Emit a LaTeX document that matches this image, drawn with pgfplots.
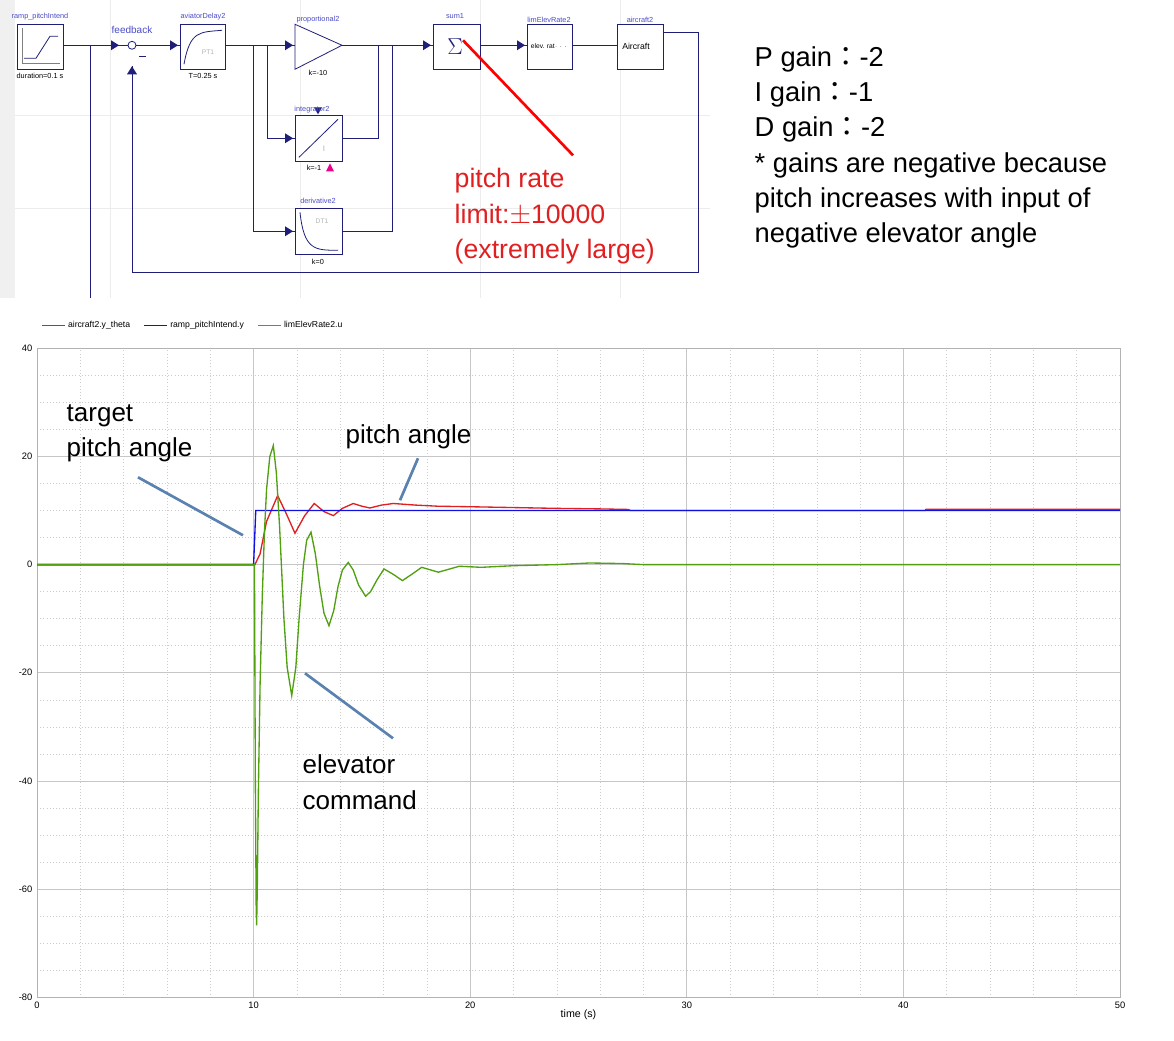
\documentclass[border=0pt]{standalone}
\usepackage{pgfplots}
\pgfplotsset{compat=1.18}
\usepackage{fontspec}
\setmainfont{Liberation Sans}
\newfontfamily\cjk{Noto Sans CJK JP}
\definecolor{dblue}{HTML}{1F1F7A}
\definecolor{lblue}{HTML}{4B4BC8}
\definecolor{ann}{HTML}{5A82B0}
\definecolor{pred}{HTML}{E02020}
\definecolor{pblue}{HTML}{1010E0}
\definecolor{pgreen}{HTML}{50A010}
\begin{document}
\begin{tikzpicture}[x=0.75pt,y=-0.75pt]
\fill[white] (0,0) rectangle (1174,1040);
\coordinate (axpos) at (37,997);
% diagram background
\fill[gray!12] (0,0) rectangle (15,298);
\foreach \yy in {115,208} \draw[gray!15] (15,\yy) -- (710,\yy);
\foreach \xx in {110,300,480,620} \draw[gray!15] (\xx,0) -- (\xx,298);
\begin{scope}[dblue, line width=0.6pt]
\tikzset{blk/.style={draw=dblue, fill=white}}
\draw (63,45) -- (128,45); \draw (136,45) -- (180,45);
\draw (225,45) -- (295,45); \draw (342,45) -- (433,45);
\draw (480,45) -- (527,45); \draw (572,45) -- (617,45);
\draw (90,45) -- (90,298);
\draw (663,32) -- (698,32) -- (698,272) -- (132,272) -- (132,66);
\draw (267,45) -- (267,138) -- (295,138);
\draw (253,45) -- (253,231) -- (295,231);
\draw (342,138) -- (378,138) -- (378,45);
\draw (342,231) -- (392,231) -- (392,45);
\foreach \ax/\ay in {119/45,178/45,293/45,431/45,525/45,293/138,293/231}
  \fill (\ax-8,\ay-5) -- (\ax,\ay) -- (\ax-8,\ay+5) -- cycle;
\fill (127,74) -- (132,66) -- (137,74) -- cycle;
\draw[fill=white] (132,45) circle (4);
\draw (139,56) -- (146,56);
\draw[blk] (17,24) rectangle (63,69);
\draw[gray] (22,63) -- (60,63); \draw[gray] (22,63) -- (22,28);
\draw (24,58) -- (36,58) -- (50,36) -- (58,36);
\draw[blk] (180,24) rectangle (225,69);
\draw (184,64) .. controls (190,30) and (200,32) .. (222,30);
\node[gray!60,font=\fontsize{5}{6}\selectfont] at (208,52) {PT1};
\draw[blk] (295,24) -- (342,45) -- (295,69) -- cycle;
\draw[blk] (433,24) rectangle (480,69);
\node[font=\fontsize{16}{16}\selectfont] at (455,46) {$\Sigma$};
\draw[blk] (527,24) rectangle (572,69);
\node[black,font=\fontsize{5}{6}\selectfont] at (549,46) {elev. rat$\cdots$};
\draw[blk] (617,24) rectangle (663,69);
\node[black,font=\fontsize{6.5}{7}\selectfont] at (636,46) {Aircraft};
\draw[blk] (295,115) rectangle (342,161);
\draw (299,157) -- (338,119);
\node[gray!60,font=\fontsize{6}{6}\selectfont] at (324,148) {I};
\fill (314,107) -- (322,107) -- (318,114) -- cycle;
\fill[magenta] (326,171) -- (334,171) -- (330,163) -- cycle;
\draw[blk] (295,208) rectangle (342,254);
\draw (300,212) .. controls (304,250) and (315,250) .. (338,250);
\node[gray!60,font=\fontsize{5}{6}\selectfont] at (322,221) {DT1};
\end{scope}
\begin{scope}[font=\fontsize{5.5}{6}\selectfont]
\node[lblue] at (40,16) {ramp\_pitchIntend};
\node at (40,76) {duration=0.1 s};
\node[lblue,font=\fontsize{7.5}{8}\selectfont] at (132,30) {feedback};
\node[lblue] at (203,16) {aviatorDelay2};
\node at (203,76) {T=0.25 s};
\node[lblue] at (318,19) {proportional2};
\node at (318,73) {k=-10};
\node[lblue] at (455,16) {sum1};
\node[lblue] at (549,20) {limElevRate2};
\node[lblue] at (640,20) {aircraft2};
\node[lblue] at (312,109) {integrator2};
\node at (314,168) {k=-1};
\node[lblue] at (318,201) {derivative2};
\node at (318,262) {k=0};
\end{scope}
\draw[red, line width=2pt] (463,40) -- (573,155);
\node[pred,anchor=west,align=left,font=\fontsize{20}{26.5}\selectfont] at (450,216) {pitch rate\\limit:$\pm$10000\\(extremely large)};
\node[anchor=west,align=left,font=\fontsize{20.5}{26.5}\selectfont] at (750,147) {P gain{\cjk ：}-2\\I gain{\cjk ：}-1\\D gain{\cjk ：}-2\\* gains are negative because\\pitch increases with input of\\negative elevator angle};
\begin{axis}[at={(axpos)}, anchor=south west, scale only axis,
  width=812.25pt, height=486.75pt,
  xmin=0, xmax=50, ymin=-80, ymax=40,
  xtick={0,10,...,50}, ytick={-80,-60,...,40},
  minor x tick num=4, minor y tick num=3,
  grid=both, major grid style={gray!45, line width=0.6pt},
  minor grid style={gray!40, dotted},
  axis line style={gray!60}, tick style={draw=none},
  tick label style={font=\fontsize{7}{8}\selectfont},
  /pgf/number format/assume math mode=true,
  xlabel={time (s)}, xlabel style={font=\fontsize{8}{9}\selectfont, yshift=6pt},
  legend style={at={(0,1.02)}, anchor=south west, draw=none, fill=none,
    font=\fontsize{6.5}{7}\selectfont, legend columns=3,
    /tikz/every even column/.append style={column sep=8pt}}]
\addplot[color=pred, line width=1pt] coordinates {(0,0)(10.06,0)(10.3,2)(10.6,8)(11.11,12.75)(11.5,9.5)(11.91,5.8)(12.35,9)(12.8,11.3)(13.25,9.8)(13.68,9.06)(14.1,10.4)(14.6,11.3)(15.0,10.8)(15.37,10.47)(15.9,11)(16.45,11.3)(17.5,11)(18.5,10.8)(20,10.7)(22,10.55)(24,10.4)(26,10.3)(27.3,10.2)(27.4,10)(41,10)(41.05,10.25)(50,10.25)};
\addlegendentry{aircraft2.y\_theta}
\addplot[color=pblue, line width=1pt] coordinates {(0,0)(10,0)(10.1,10)(50,10)};
\addlegendentry{ramp\_pitchIntend.y}
\addplot[color=pgreen, line width=1pt] coordinates {(0,0)(10.04,0)(10.08,-40)(10.12,-64)(10.14,-66.7)(10.17,-60)(10.22,-42)(10.3,-22)(10.4,-6)(10.5,6)(10.6,14)(10.75,20)(10.91,22)(11.05,17)(11.2,7)(11.4,-10)(11.55,-19)(11.76,-24.2)(11.95,-19)(12.1,-10)(12.3,0)(12.45,4.5)(12.65,6)(12.85,2)(13.05,-4)(13.25,-9)(13.48,-11.3)(13.7,-8.5)(13.9,-4)(14.1,-1)(14.37,0.4)(14.6,-1)(14.85,-3.8)(15.17,-5.85)(15.4,-5)(15.7,-2.8)(16.02,-0.8)(16.45,-1.8)(16.87,-2.96)(17.3,-1.8)(17.76,-0.5)(18.1,-0.9)(18.53,-1.4)(19.5,-0.3)(20.5,-0.5)(22,-0.2)(24,0)(25.5,0.3)(27,0.2)(28,0)(50,0)};
\addlegendentry{limElevRate2.u}
\end{axis}
\begin{scope}[ann, line width=2pt]
\draw (138,477) -- (243,535);
\draw (418,458) -- (400,500);
\draw (305,673) -- (393,738);
\end{scope}
\begin{scope}[font=\fontsize{19.5}{26.5}\selectfont]
\node[anchor=west,align=left] at (62,433) {target\\pitch angle};
\node[anchor=west] at (341,436) {pitch angle};
\node[anchor=west,align=left] at (298,782) {elevator\\command};
\end{scope}
\end{tikzpicture}
\end{document}
